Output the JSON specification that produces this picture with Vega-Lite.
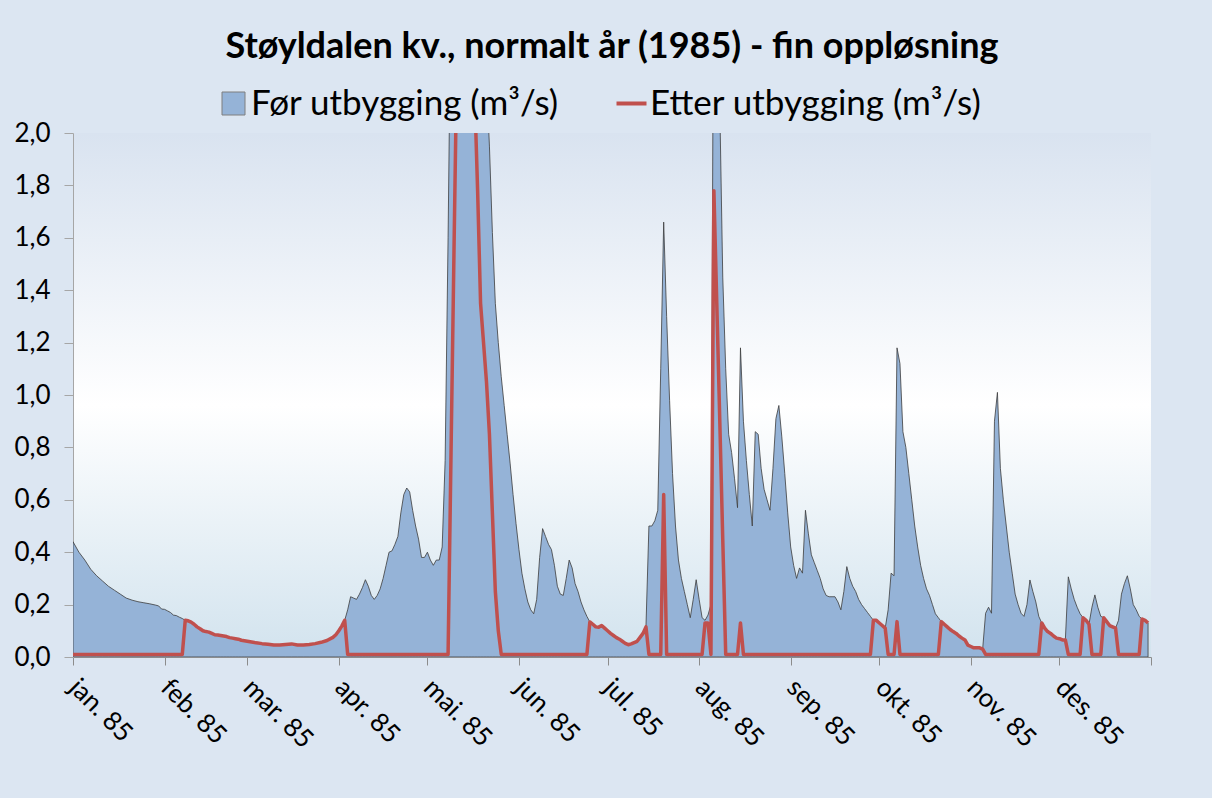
{
  "$schema": "https://vega.github.io/schema/vega-lite/v6.json",
  "width": 1078,
  "height": 524,
  "autosize": "none",
  "padding": {"left": 73, "top": 133, "right": 61, "bottom": 141},
  "background": "#dce6f2",
  "title": {
    "text": "Støyldalen kv., normalt år (1985) - fin oppløsning",
    "font": "Lato", "fontSize": 36, "fontWeight": "bold", "color": "#000000",
    "anchor": "middle", "frame": "group", "offset": 20
  },
  "config": {
    "view": {
      "stroke": null,
      "fill": {
        "gradient": "linear", "x1": 0, "y1": 0, "x2": 0, "y2": 1,
        "stops": [
          {"offset": 0, "color": "#d9e3f0"},
          {"offset": 0.52, "color": "#ffffff"},
          {"offset": 1, "color": "#d2e3ee"}
        ]
      }
    }
  },
  "datasets": {
    "foer": [
      {"dato": "1985-01-01", "q": 0.44}, {"dato": "1985-01-03", "q": 0.40}, {"dato": "1985-01-05", "q": 0.37}, {"dato": "1985-01-07", "q": 0.335},
      {"dato": "1985-01-09", "q": 0.31}, {"dato": "1985-01-11", "q": 0.29}, {"dato": "1985-01-13", "q": 0.27}, {"dato": "1985-01-15", "q": 0.255},
      {"dato": "1985-01-17", "q": 0.24}, {"dato": "1985-01-19", "q": 0.225}, {"dato": "1985-01-21", "q": 0.217}, {"dato": "1985-01-23", "q": 0.211},
      {"dato": "1985-01-25", "q": 0.207}, {"dato": "1985-01-27", "q": 0.203}, {"dato": "1985-01-29", "q": 0.198}, {"dato": "1985-01-30", "q": 0.195},
      {"dato": "1985-01-31", "q": 0.183}, {"dato": "1985-02-01", "q": 0.182}, {"dato": "1985-02-02", "q": 0.176}, {"dato": "1985-02-03", "q": 0.17},
      {"dato": "1985-02-04", "q": 0.16}, {"dato": "1985-02-05", "q": 0.158}, {"dato": "1985-02-06", "q": 0.152}, {"dato": "1985-02-07", "q": 0.147},
      {"dato": "1985-02-08", "q": 0.14}, {"dato": "1985-02-09", "q": 0.138}, {"dato": "1985-02-10", "q": 0.133}, {"dato": "1985-02-11", "q": 0.125},
      {"dato": "1985-02-12", "q": 0.115}, {"dato": "1985-02-13", "q": 0.108}, {"dato": "1985-02-14", "q": 0.1}, {"dato": "1985-02-15", "q": 0.097},
      {"dato": "1985-02-16", "q": 0.095}, {"dato": "1985-02-17", "q": 0.09}, {"dato": "1985-02-18", "q": 0.085}, {"dato": "1985-02-19", "q": 0.084},
      {"dato": "1985-02-20", "q": 0.082}, {"dato": "1985-02-21", "q": 0.08}, {"dato": "1985-02-22", "q": 0.078}, {"dato": "1985-02-23", "q": 0.074},
      {"dato": "1985-02-24", "q": 0.072}, {"dato": "1985-02-25", "q": 0.07}, {"dato": "1985-02-26", "q": 0.068}, {"dato": "1985-02-27", "q": 0.064},
      {"dato": "1985-02-28", "q": 0.062}, {"dato": "1985-03-02", "q": 0.058}, {"dato": "1985-03-04", "q": 0.054}, {"dato": "1985-03-06", "q": 0.051},
      {"dato": "1985-03-08", "q": 0.049}, {"dato": "1985-03-10", "q": 0.046}, {"dato": "1985-03-12", "q": 0.046}, {"dato": "1985-03-14", "q": 0.048},
      {"dato": "1985-03-16", "q": 0.05}, {"dato": "1985-03-18", "q": 0.046}, {"dato": "1985-03-20", "q": 0.046}, {"dato": "1985-03-22", "q": 0.048},
      {"dato": "1985-03-24", "q": 0.051}, {"dato": "1985-03-26", "q": 0.056}, {"dato": "1985-03-28", "q": 0.063}, {"dato": "1985-03-30", "q": 0.075},
      {"dato": "1985-03-31", "q": 0.085}, {"dato": "1985-04-01", "q": 0.1}, {"dato": "1985-04-02", "q": 0.118}, {"dato": "1985-04-03", "q": 0.14},
      {"dato": "1985-04-04", "q": 0.18}, {"dato": "1985-04-05", "q": 0.23}, {"dato": "1985-04-06", "q": 0.225}, {"dato": "1985-04-07", "q": 0.22},
      {"dato": "1985-04-08", "q": 0.24}, {"dato": "1985-04-09", "q": 0.265}, {"dato": "1985-04-10", "q": 0.295}, {"dato": "1985-04-11", "q": 0.27},
      {"dato": "1985-04-12", "q": 0.235}, {"dato": "1985-04-13", "q": 0.22}, {"dato": "1985-04-14", "q": 0.235}, {"dato": "1985-04-15", "q": 0.26},
      {"dato": "1985-04-16", "q": 0.3}, {"dato": "1985-04-17", "q": 0.35}, {"dato": "1985-04-18", "q": 0.4}, {"dato": "1985-04-19", "q": 0.405},
      {"dato": "1985-04-20", "q": 0.43}, {"dato": "1985-04-21", "q": 0.46}, {"dato": "1985-04-22", "q": 0.55}, {"dato": "1985-04-23", "q": 0.62},
      {"dato": "1985-04-24", "q": 0.645}, {"dato": "1985-04-25", "q": 0.63}, {"dato": "1985-04-26", "q": 0.56}, {"dato": "1985-04-27", "q": 0.5},
      {"dato": "1985-04-28", "q": 0.45}, {"dato": "1985-04-29", "q": 0.38}, {"dato": "1985-04-30", "q": 0.38}, {"dato": "1985-05-01", "q": 0.4},
      {"dato": "1985-05-02", "q": 0.37}, {"dato": "1985-05-03", "q": 0.35}, {"dato": "1985-05-04", "q": 0.37}, {"dato": "1985-05-05", "q": 0.37},
      {"dato": "1985-05-06", "q": 0.42}, {"dato": "1985-05-07", "q": 0.75}, {"dato": "1985-05-08", "q": 1.6}, {"dato": "1985-05-09", "q": 2.6},
      {"dato": "1985-05-10", "q": 3.2}, {"dato": "1985-05-11", "q": 3.5}, {"dato": "1985-05-12", "q": 3.6}, {"dato": "1985-05-13", "q": 3.5},
      {"dato": "1985-05-14", "q": 3.4}, {"dato": "1985-05-15", "q": 3.3}, {"dato": "1985-05-16", "q": 3.2}, {"dato": "1985-05-17", "q": 3.0},
      {"dato": "1985-05-18", "q": 2.8}, {"dato": "1985-05-19", "q": 2.6}, {"dato": "1985-05-20", "q": 2.4}, {"dato": "1985-05-21", "q": 2.2},
      {"dato": "1985-05-22", "q": 1.95}, {"dato": "1985-05-23", "q": 1.62}, {"dato": "1985-05-24", "q": 1.35}, {"dato": "1985-05-25", "q": 1.2},
      {"dato": "1985-05-26", "q": 1.07}, {"dato": "1985-05-27", "q": 0.96}, {"dato": "1985-05-28", "q": 0.85}, {"dato": "1985-05-29", "q": 0.74},
      {"dato": "1985-05-30", "q": 0.62}, {"dato": "1985-05-31", "q": 0.51}, {"dato": "1985-06-01", "q": 0.41}, {"dato": "1985-06-02", "q": 0.32},
      {"dato": "1985-06-03", "q": 0.26}, {"dato": "1985-06-04", "q": 0.21}, {"dato": "1985-06-05", "q": 0.18}, {"dato": "1985-06-06", "q": 0.165},
      {"dato": "1985-06-07", "q": 0.22}, {"dato": "1985-06-08", "q": 0.38}, {"dato": "1985-06-09", "q": 0.49}, {"dato": "1985-06-10", "q": 0.46},
      {"dato": "1985-06-11", "q": 0.43}, {"dato": "1985-06-12", "q": 0.41}, {"dato": "1985-06-13", "q": 0.35}, {"dato": "1985-06-14", "q": 0.27},
      {"dato": "1985-06-15", "q": 0.24}, {"dato": "1985-06-16", "q": 0.235}, {"dato": "1985-06-17", "q": 0.3}, {"dato": "1985-06-18", "q": 0.37},
      {"dato": "1985-06-19", "q": 0.34}, {"dato": "1985-06-20", "q": 0.28}, {"dato": "1985-06-21", "q": 0.25}, {"dato": "1985-06-22", "q": 0.21},
      {"dato": "1985-06-23", "q": 0.18}, {"dato": "1985-06-24", "q": 0.155}, {"dato": "1985-06-25", "q": 0.134}, {"dato": "1985-06-26", "q": 0.125},
      {"dato": "1985-06-27", "q": 0.115}, {"dato": "1985-06-28", "q": 0.114}, {"dato": "1985-06-29", "q": 0.12}, {"dato": "1985-06-30", "q": 0.11},
      {"dato": "1985-07-01", "q": 0.1}, {"dato": "1985-07-02", "q": 0.09}, {"dato": "1985-07-03", "q": 0.082}, {"dato": "1985-07-04", "q": 0.074},
      {"dato": "1985-07-05", "q": 0.068}, {"dato": "1985-07-06", "q": 0.06}, {"dato": "1985-07-07", "q": 0.052}, {"dato": "1985-07-08", "q": 0.047},
      {"dato": "1985-07-09", "q": 0.05}, {"dato": "1985-07-10", "q": 0.055}, {"dato": "1985-07-11", "q": 0.06}, {"dato": "1985-07-12", "q": 0.075},
      {"dato": "1985-07-13", "q": 0.09}, {"dato": "1985-07-14", "q": 0.115}, {"dato": "1985-07-15", "q": 0.5}, {"dato": "1985-07-16", "q": 0.5},
      {"dato": "1985-07-17", "q": 0.52}, {"dato": "1985-07-18", "q": 0.56}, {"dato": "1985-07-19", "q": 1.1}, {"dato": "1985-07-20", "q": 1.66},
      {"dato": "1985-07-21", "q": 1.3}, {"dato": "1985-07-22", "q": 0.98}, {"dato": "1985-07-23", "q": 0.7}, {"dato": "1985-07-24", "q": 0.5},
      {"dato": "1985-07-25", "q": 0.37}, {"dato": "1985-07-26", "q": 0.3}, {"dato": "1985-07-27", "q": 0.25}, {"dato": "1985-07-28", "q": 0.2},
      {"dato": "1985-07-29", "q": 0.15}, {"dato": "1985-07-30", "q": 0.22}, {"dato": "1985-07-31", "q": 0.295}, {"dato": "1985-08-01", "q": 0.22},
      {"dato": "1985-08-02", "q": 0.15}, {"dato": "1985-08-03", "q": 0.14}, {"dato": "1985-08-04", "q": 0.16}, {"dato": "1985-08-05", "q": 0.2},
      {"dato": "1985-08-06", "q": 3.0}, {"dato": "1985-08-07", "q": 3.2}, {"dato": "1985-08-08", "q": 2.1}, {"dato": "1985-08-09", "q": 1.45},
      {"dato": "1985-08-10", "q": 1.1}, {"dato": "1985-08-11", "q": 0.85}, {"dato": "1985-08-12", "q": 0.78}, {"dato": "1985-08-13", "q": 0.68},
      {"dato": "1985-08-14", "q": 0.57}, {"dato": "1985-08-15", "q": 1.18}, {"dato": "1985-08-16", "q": 0.9}, {"dato": "1985-08-17", "q": 0.75},
      {"dato": "1985-08-18", "q": 0.62}, {"dato": "1985-08-19", "q": 0.5}, {"dato": "1985-08-20", "q": 0.86}, {"dato": "1985-08-21", "q": 0.85},
      {"dato": "1985-08-22", "q": 0.72}, {"dato": "1985-08-23", "q": 0.64}, {"dato": "1985-08-24", "q": 0.6}, {"dato": "1985-08-25", "q": 0.56},
      {"dato": "1985-08-26", "q": 0.72}, {"dato": "1985-08-27", "q": 0.91}, {"dato": "1985-08-28", "q": 0.96}, {"dato": "1985-08-29", "q": 0.84},
      {"dato": "1985-08-30", "q": 0.7}, {"dato": "1985-08-31", "q": 0.55}, {"dato": "1985-09-01", "q": 0.42}, {"dato": "1985-09-02", "q": 0.35},
      {"dato": "1985-09-03", "q": 0.3}, {"dato": "1985-09-04", "q": 0.34}, {"dato": "1985-09-05", "q": 0.32}, {"dato": "1985-09-06", "q": 0.56},
      {"dato": "1985-09-07", "q": 0.47}, {"dato": "1985-09-08", "q": 0.39}, {"dato": "1985-09-09", "q": 0.36}, {"dato": "1985-09-10", "q": 0.33},
      {"dato": "1985-09-11", "q": 0.3}, {"dato": "1985-09-12", "q": 0.26}, {"dato": "1985-09-13", "q": 0.235}, {"dato": "1985-09-14", "q": 0.23},
      {"dato": "1985-09-15", "q": 0.23}, {"dato": "1985-09-16", "q": 0.23}, {"dato": "1985-09-17", "q": 0.21}, {"dato": "1985-09-18", "q": 0.18},
      {"dato": "1985-09-19", "q": 0.25}, {"dato": "1985-09-20", "q": 0.345}, {"dato": "1985-09-21", "q": 0.3}, {"dato": "1985-09-22", "q": 0.27},
      {"dato": "1985-09-23", "q": 0.25}, {"dato": "1985-09-24", "q": 0.22}, {"dato": "1985-09-25", "q": 0.2}, {"dato": "1985-09-26", "q": 0.185},
      {"dato": "1985-09-27", "q": 0.17}, {"dato": "1985-09-28", "q": 0.155}, {"dato": "1985-09-29", "q": 0.14}, {"dato": "1985-09-30", "q": 0.14},
      {"dato": "1985-10-01", "q": 0.13}, {"dato": "1985-10-02", "q": 0.12}, {"dato": "1985-10-03", "q": 0.11}, {"dato": "1985-10-04", "q": 0.18},
      {"dato": "1985-10-05", "q": 0.32}, {"dato": "1985-10-06", "q": 0.31}, {"dato": "1985-10-07", "q": 1.18}, {"dato": "1985-10-08", "q": 1.12},
      {"dato": "1985-10-09", "q": 0.86}, {"dato": "1985-10-10", "q": 0.8}, {"dato": "1985-10-11", "q": 0.7}, {"dato": "1985-10-12", "q": 0.6},
      {"dato": "1985-10-13", "q": 0.5}, {"dato": "1985-10-14", "q": 0.42}, {"dato": "1985-10-15", "q": 0.35}, {"dato": "1985-10-16", "q": 0.3},
      {"dato": "1985-10-17", "q": 0.26}, {"dato": "1985-10-18", "q": 0.235}, {"dato": "1985-10-19", "q": 0.2}, {"dato": "1985-10-20", "q": 0.165},
      {"dato": "1985-10-21", "q": 0.15}, {"dato": "1985-10-22", "q": 0.135}, {"dato": "1985-10-23", "q": 0.125}, {"dato": "1985-10-24", "q": 0.115},
      {"dato": "1985-10-25", "q": 0.105}, {"dato": "1985-10-26", "q": 0.097}, {"dato": "1985-10-27", "q": 0.09}, {"dato": "1985-10-28", "q": 0.08},
      {"dato": "1985-10-29", "q": 0.072}, {"dato": "1985-10-30", "q": 0.065}, {"dato": "1985-10-31", "q": 0.045}, {"dato": "1985-11-01", "q": 0.04},
      {"dato": "1985-11-02", "q": 0.035}, {"dato": "1985-11-03", "q": 0.035}, {"dato": "1985-11-04", "q": 0.035}, {"dato": "1985-11-05", "q": 0.03},
      {"dato": "1985-11-06", "q": 0.167}, {"dato": "1985-11-07", "q": 0.19}, {"dato": "1985-11-08", "q": 0.167}, {"dato": "1985-11-09", "q": 0.9},
      {"dato": "1985-11-10", "q": 1.01}, {"dato": "1985-11-11", "q": 0.72}, {"dato": "1985-11-12", "q": 0.6}, {"dato": "1985-11-13", "q": 0.5},
      {"dato": "1985-11-14", "q": 0.4}, {"dato": "1985-11-15", "q": 0.32}, {"dato": "1985-11-16", "q": 0.24}, {"dato": "1985-11-17", "q": 0.2},
      {"dato": "1985-11-18", "q": 0.167}, {"dato": "1985-11-19", "q": 0.155}, {"dato": "1985-11-20", "q": 0.2}, {"dato": "1985-11-21", "q": 0.294},
      {"dato": "1985-11-22", "q": 0.25}, {"dato": "1985-11-23", "q": 0.21}, {"dato": "1985-11-24", "q": 0.155}, {"dato": "1985-11-25", "q": 0.13},
      {"dato": "1985-11-26", "q": 0.11}, {"dato": "1985-11-27", "q": 0.097}, {"dato": "1985-11-28", "q": 0.09}, {"dato": "1985-11-29", "q": 0.08},
      {"dato": "1985-11-30", "q": 0.072}, {"dato": "1985-12-01", "q": 0.07}, {"dato": "1985-12-02", "q": 0.065}, {"dato": "1985-12-03", "q": 0.065},
      {"dato": "1985-12-04", "q": 0.306}, {"dato": "1985-12-05", "q": 0.26}, {"dato": "1985-12-06", "q": 0.22}, {"dato": "1985-12-07", "q": 0.19},
      {"dato": "1985-12-08", "q": 0.165}, {"dato": "1985-12-09", "q": 0.15}, {"dato": "1985-12-10", "q": 0.14}, {"dato": "1985-12-11", "q": 0.125},
      {"dato": "1985-12-12", "q": 0.19}, {"dato": "1985-12-13", "q": 0.237}, {"dato": "1985-12-14", "q": 0.19}, {"dato": "1985-12-15", "q": 0.155},
      {"dato": "1985-12-16", "q": 0.15}, {"dato": "1985-12-17", "q": 0.135}, {"dato": "1985-12-18", "q": 0.12}, {"dato": "1985-12-19", "q": 0.115},
      {"dato": "1985-12-20", "q": 0.11}, {"dato": "1985-12-21", "q": 0.14}, {"dato": "1985-12-22", "q": 0.24}, {"dato": "1985-12-23", "q": 0.28},
      {"dato": "1985-12-24", "q": 0.31}, {"dato": "1985-12-25", "q": 0.26}, {"dato": "1985-12-26", "q": 0.2}, {"dato": "1985-12-27", "q": 0.18},
      {"dato": "1985-12-28", "q": 0.155}, {"dato": "1985-12-29", "q": 0.145}, {"dato": "1985-12-30", "q": 0.14}, {"dato": "1985-12-31", "q": 0.13}
    ],
    "etter": [
      {"dato": "1985-01-01", "q": 0.01}, {"dato": "1985-02-07", "q": 0.01},
      {"dato": "1985-02-08", "q": 0.14}, {"dato": "1985-02-09", "q": 0.138}, {"dato": "1985-02-10", "q": 0.133}, {"dato": "1985-02-11", "q": 0.125},
      {"dato": "1985-02-12", "q": 0.115}, {"dato": "1985-02-13", "q": 0.108}, {"dato": "1985-02-14", "q": 0.1}, {"dato": "1985-02-15", "q": 0.097},
      {"dato": "1985-02-16", "q": 0.095}, {"dato": "1985-02-17", "q": 0.09}, {"dato": "1985-02-18", "q": 0.085}, {"dato": "1985-02-19", "q": 0.084},
      {"dato": "1985-02-20", "q": 0.082}, {"dato": "1985-02-21", "q": 0.08}, {"dato": "1985-02-22", "q": 0.078}, {"dato": "1985-02-23", "q": 0.074},
      {"dato": "1985-02-24", "q": 0.072}, {"dato": "1985-02-25", "q": 0.07}, {"dato": "1985-02-26", "q": 0.068}, {"dato": "1985-02-27", "q": 0.064},
      {"dato": "1985-02-28", "q": 0.062}, {"dato": "1985-03-02", "q": 0.058}, {"dato": "1985-03-04", "q": 0.054}, {"dato": "1985-03-06", "q": 0.051},
      {"dato": "1985-03-08", "q": 0.049}, {"dato": "1985-03-10", "q": 0.046}, {"dato": "1985-03-12", "q": 0.046}, {"dato": "1985-03-14", "q": 0.048},
      {"dato": "1985-03-16", "q": 0.05}, {"dato": "1985-03-18", "q": 0.046}, {"dato": "1985-03-20", "q": 0.046}, {"dato": "1985-03-22", "q": 0.048},
      {"dato": "1985-03-24", "q": 0.051}, {"dato": "1985-03-26", "q": 0.056}, {"dato": "1985-03-28", "q": 0.063}, {"dato": "1985-03-30", "q": 0.075},
      {"dato": "1985-03-31", "q": 0.085}, {"dato": "1985-04-01", "q": 0.1}, {"dato": "1985-04-02", "q": 0.118}, {"dato": "1985-04-03", "q": 0.14},
      {"dato": "1985-04-04", "q": 0.01}, {"dato": "1985-05-08", "q": 0.01}, {"dato": "1985-05-09", "q": 0.78}, {"dato": "1985-05-10", "q": 1.55},
      {"dato": "1985-05-11", "q": 2.3}, {"dato": "1985-05-12", "q": 2.8}, {"dato": "1985-05-13", "q": 3.0}, {"dato": "1985-05-14", "q": 3.0},
      {"dato": "1985-05-15", "q": 2.9}, {"dato": "1985-05-16", "q": 2.6}, {"dato": "1985-05-17", "q": 2.15}, {"dato": "1985-05-18", "q": 1.78},
      {"dato": "1985-05-19", "q": 1.35}, {"dato": "1985-05-20", "q": 1.2}, {"dato": "1985-05-21", "q": 1.05}, {"dato": "1985-05-22", "q": 0.85},
      {"dato": "1985-05-23", "q": 0.55}, {"dato": "1985-05-24", "q": 0.25}, {"dato": "1985-05-25", "q": 0.1}, {"dato": "1985-05-26", "q": 0.01},
      {"dato": "1985-06-24", "q": 0.01}, {"dato": "1985-06-25", "q": 0.134}, {"dato": "1985-06-26", "q": 0.125},
      {"dato": "1985-06-27", "q": 0.115}, {"dato": "1985-06-28", "q": 0.114}, {"dato": "1985-06-29", "q": 0.12}, {"dato": "1985-06-30", "q": 0.11},
      {"dato": "1985-07-01", "q": 0.1}, {"dato": "1985-07-02", "q": 0.09}, {"dato": "1985-07-03", "q": 0.082}, {"dato": "1985-07-04", "q": 0.074},
      {"dato": "1985-07-05", "q": 0.068}, {"dato": "1985-07-06", "q": 0.06}, {"dato": "1985-07-07", "q": 0.052}, {"dato": "1985-07-08", "q": 0.047},
      {"dato": "1985-07-09", "q": 0.05}, {"dato": "1985-07-10", "q": 0.055}, {"dato": "1985-07-11", "q": 0.06}, {"dato": "1985-07-12", "q": 0.075},
      {"dato": "1985-07-13", "q": 0.09}, {"dato": "1985-07-14", "q": 0.115}, {"dato": "1985-07-15", "q": 0.01}, {"dato": "1985-07-19", "q": 0.01},
      {"dato": "1985-07-20", "q": 0.62}, {"dato": "1985-07-21", "q": 0.01}, {"dato": "1985-08-02", "q": 0.01}, {"dato": "1985-08-03", "q": 0.13},
      {"dato": "1985-08-04", "q": 0.13}, {"dato": "1985-08-05", "q": 0.01}, {"dato": "1985-08-06", "q": 1.78}, {"dato": "1985-08-07", "q": 1.34},
      {"dato": "1985-08-08", "q": 0.9}, {"dato": "1985-08-09", "q": 0.45}, {"dato": "1985-08-10", "q": 0.01}, {"dato": "1985-08-14", "q": 0.01},
      {"dato": "1985-08-15", "q": 0.13}, {"dato": "1985-08-16", "q": 0.01}, {"dato": "1985-09-28", "q": 0.01}, {"dato": "1985-09-29", "q": 0.14},
      {"dato": "1985-09-30", "q": 0.14}, {"dato": "1985-10-01", "q": 0.13}, {"dato": "1985-10-02", "q": 0.12}, {"dato": "1985-10-03", "q": 0.11},
      {"dato": "1985-10-04", "q": 0.01}, {"dato": "1985-10-06", "q": 0.01}, {"dato": "1985-10-07", "q": 0.135}, {"dato": "1985-10-08", "q": 0.01},
      {"dato": "1985-10-21", "q": 0.01}, {"dato": "1985-10-22", "q": 0.135}, {"dato": "1985-10-23", "q": 0.125}, {"dato": "1985-10-24", "q": 0.115},
      {"dato": "1985-10-25", "q": 0.105}, {"dato": "1985-10-26", "q": 0.097}, {"dato": "1985-10-27", "q": 0.09}, {"dato": "1985-10-28", "q": 0.08},
      {"dato": "1985-10-29", "q": 0.072}, {"dato": "1985-10-30", "q": 0.065}, {"dato": "1985-10-31", "q": 0.045}, {"dato": "1985-11-01", "q": 0.04},
      {"dato": "1985-11-02", "q": 0.035}, {"dato": "1985-11-03", "q": 0.035}, {"dato": "1985-11-04", "q": 0.035}, {"dato": "1985-11-05", "q": 0.03},
      {"dato": "1985-11-06", "q": 0.01}, {"dato": "1985-11-24", "q": 0.01}, {"dato": "1985-11-25", "q": 0.13},
      {"dato": "1985-11-26", "q": 0.11}, {"dato": "1985-11-27", "q": 0.097}, {"dato": "1985-11-28", "q": 0.09}, {"dato": "1985-11-29", "q": 0.08},
      {"dato": "1985-11-30", "q": 0.072}, {"dato": "1985-12-01", "q": 0.07}, {"dato": "1985-12-02", "q": 0.065}, {"dato": "1985-12-03", "q": 0.065},
      {"dato": "1985-12-04", "q": 0.01}, {"dato": "1985-12-08", "q": 0.01}, {"dato": "1985-12-09", "q": 0.15}, {"dato": "1985-12-10", "q": 0.14},
      {"dato": "1985-12-11", "q": 0.125}, {"dato": "1985-12-12", "q": 0.01}, {"dato": "1985-12-15", "q": 0.01}, {"dato": "1985-12-16", "q": 0.15},
      {"dato": "1985-12-17", "q": 0.135}, {"dato": "1985-12-18", "q": 0.12}, {"dato": "1985-12-19", "q": 0.115}, {"dato": "1985-12-20", "q": 0.11},
      {"dato": "1985-12-21", "q": 0.01}, {"dato": "1985-12-28", "q": 0.01}, {"dato": "1985-12-29", "q": 0.145}, {"dato": "1985-12-30", "q": 0.14},
      {"dato": "1985-12-31", "q": 0.13}
    ]
  },
  "encoding": {
    "x": {
      "field": "dato", "type": "temporal",
      "scale": {"type": "utc", "domain": [{"year": 1985, "month": 1, "date": 1, "utc": true}, {"year": 1986, "month": 1, "date": 1, "utc": true}]},
      "axis": {
        "title": null, "grid": false,
        "values": [
          {"year": 1985, "month": 1, "date": 1, "utc": true}, {"year": 1985, "month": 2, "date": 1, "utc": true},
          {"year": 1985, "month": 3, "date": 1, "utc": true}, {"year": 1985, "month": 4, "date": 1, "utc": true},
          {"year": 1985, "month": 5, "date": 1, "utc": true}, {"year": 1985, "month": 6, "date": 1, "utc": true},
          {"year": 1985, "month": 7, "date": 1, "utc": true}, {"year": 1985, "month": 8, "date": 1, "utc": true},
          {"year": 1985, "month": 9, "date": 1, "utc": true}, {"year": 1985, "month": 10, "date": 1, "utc": true},
          {"year": 1985, "month": 11, "date": 1, "utc": true}, {"year": 1985, "month": 12, "date": 1, "utc": true},
          {"year": 1986, "month": 1, "date": 1, "utc": true}
        ],
        "labelExpr": "utcyear(datum.value) > 1985 ? '' : ['jan','feb','mar','apr','mai','jun','jul','aug','sep','okt','nov','des'][utcmonth(datum.value)] + '. 85'",
        "labelAngle": 45, "labelAlign": "left", "labelBaseline": "middle",
        "labelFont": "Lato", "labelFontSize": 26, "labelColor": "#000000", "labelPadding": 18,
        "labelOverlap": false, "labelBound": false, "labelFlush": false,
        "domainColor": "#8c8c8c", "domainWidth": 1, "tickColor": "#8c8c8c", "tickSize": 8, "tickWidth": 1
      }
    },
    "y": {
      "field": "q", "type": "quantitative",
      "scale": {"domain": [0, 2], "nice": false, "zero": true},
      "axis": {
        "title": null, "grid": false,
        "values": [0, 0.2, 0.4, 0.6, 0.8, 1.0, 1.2, 1.4, 1.6, 1.8, 2.0],
        "labelExpr": "replace(format(datum.value, '.1f'), '.', ',')",
        "labelFont": "Lato", "labelFontSize": 26, "labelColor": "#000000", "labelPadding": 14,
        "domainColor": "#a6a6a6", "domainWidth": 1, "tickColor": "#a6a6a6", "tickSize": 9, "tickWidth": 1
      }
    }
  },
  "layer": [
    {
      "data": {"name": "foer"},
      "mark": {"type": "area", "clip": true, "stroke": "#3c3c3c", "strokeWidth": 0.8, "fillOpacity": 1},
      "encoding": {
        "fill": {
          "datum": "Før utbygging (m³/s)", "type": "nominal",
          "scale": {"range": ["#95b3d7"]},
          "legend": {
            "orient": "none", "legendX": 143, "legendY": -47, "title": null,
            "symbolType": "square", "symbolSize": 529, "symbolStrokeColor": "#7f7f7f", "symbolStrokeWidth": 1,
            "labelFont": "Lato", "labelFontSize": 35, "labelColor": "#000000", "labelOffset": 0, "labelLimit": 600
          }
        }
      }
    },
    {
      "data": {"name": "etter"},
      "mark": {"type": "line", "clip": true, "strokeWidth": 3.5, "strokeJoin": "round"},
      "encoding": {
        "stroke": {
          "datum": "Etter utbygging (m³/s)", "type": "nominal",
          "scale": {"range": ["#c0504d"]},
          "legend": {
            "orient": "none", "legendX": 541, "legendY": -47, "title": null,
            "symbolType": "stroke", "symbolSize": 900, "symbolStrokeWidth": 4, "symbolStrokeColor": "#c0504d",
            "labelFont": "Lato", "labelFontSize": 35, "labelColor": "#000000", "labelOffset": 1, "labelLimit": 600
          }
        }
      }
    }
  ]
}
